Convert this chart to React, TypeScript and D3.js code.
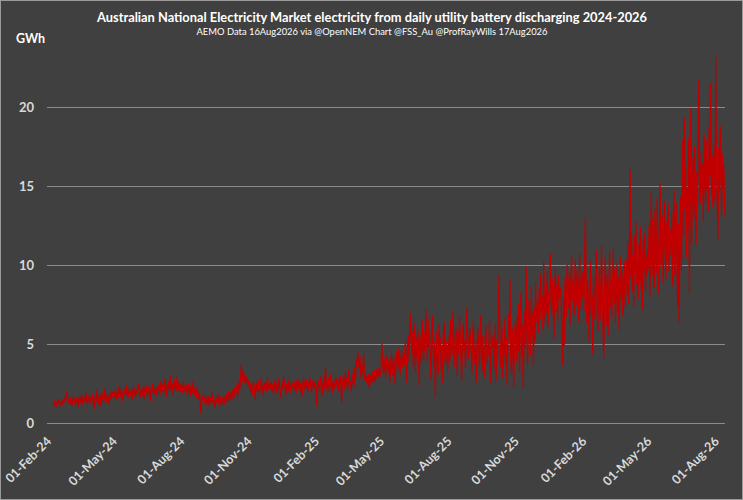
// @ts-nocheck
import React, { useEffect, useRef } from "react";
import * as d3 from "d3";

// daily utility battery discharging, GWh, from 08-Feb-2024
const gwh2024 = [
  // Feb
  1.3, 1.2, 1.4, 1.1, 1.0, 1.3, 1.2, 1.4, 1.5, 1.2, 1.1, 1.3, 1.4, 1.2, 1.5, 1.3, 1.6, 1.4, 1.8, 2.0, 1.5, 1.3,
  // Mar
  1.4, 1.2, 1.6, 1.3, 1.1, 1.5, 1.7, 1.4, 1.2, 1.3, 1.6, 1.5, 1.0, 1.4, 1.7, 1.3, 1.5, 1.8, 1.2, 1.4, 1.6, 1.5, 1.3, 1.9, 1.4, 1.2, 1.6, 1.7, 1.5, 1.3, 1.6,
  // Apr
  1.5, 1.8, 1.3, 0.9, 1.6, 1.7, 1.4, 2.1, 1.5, 1.2, 1.6, 1.8, 1.1, 1.4, 1.9, 1.6, 1.3, 1.7, 2.2, 1.5, 1.4, 1.8, 1.6, 1.2, 1.7, 1.9, 1.5, 1.8, 2.0, 1.6,
  // May
  1.9, 1.7, 2.1, 1.5, 1.8, 2.0, 1.6, 2.3, 1.9, 1.7, 2.2, 1.8, 1.4, 2.0, 2.1, 1.9, 1.7, 2.4, 1.8, 2.0, 1.6, 2.2, 1.9, 1.8, 2.1, 1.5, 2.0, 2.3, 1.9, 1.7, 2.1,
  // Jun
  2.0, 1.8, 2.2, 2.5, 1.9, 1.6, 2.1, 2.0, 1.8, 2.3, 1.5, 2.2, 1.9, 2.4, 2.0, 1.7, 2.1, 2.3, 1.9, 1.4, 2.2, 2.0, 2.5, 1.8, 2.1, 1.9, 2.3, 2.0, 1.7, 2.2,
  // Jul
  2.4, 2.1, 1.8, 2.6, 2.2, 2.0, 2.5, 1.9, 2.3, 2.8, 2.1, 1.7, 2.4, 2.2, 2.6, 2.0, 3.0, 2.3, 2.1, 2.5, 1.8, 2.4, 2.7, 2.2, 2.0, 2.9, 2.4, 2.1, 2.6, 2.3, 2.0,
  // Aug
  2.5, 2.2, 1.9, 2.6, 2.1, 2.3, 2.0, 2.4, 1.8, 2.2, 2.5, 2.0, 1.7, 2.3, 2.1, 1.9, 2.6, 2.2, 1.8, 2.0, 2.3, 1.6, 2.1, 1.9, 1.5, 1.8, 1.2, 0.6, 1.4, 1.7, 1.5,
  // Sep
  1.6, 1.3, 1.8, 1.4, 1.2, 1.5, 1.7, 1.1, 1.4, 1.6, 1.3, 1.9, 1.5, 1.2, 1.4, 1.0, 1.6, 1.3, 1.5, 1.8, 1.2, 1.4, 1.7, 1.3, 1.1, 1.5, 1.6, 1.4, 1.2, 1.7,
  // Oct
  1.5, 1.8, 1.3, 1.6, 2.0, 1.4, 1.7, 1.9, 1.5, 2.1, 1.8, 1.6, 2.2, 1.9, 2.4, 2.0, 1.7, 2.3, 2.6, 2.1, 2.8, 3.7, 3.1, 2.7, 3.3, 2.9, 2.5, 3.0, 2.6, 2.8, 2.4,
  // Nov
  2.7, 2.3, 2.0, 2.5, 2.2, 1.8, 2.4, 2.6, 2.1, 1.5, 2.3, 2.5, 2.0, 2.7, 2.2, 1.9, 2.4, 2.8, 2.1, 2.3, 1.7, 2.5, 2.2, 2.6, 2.0, 2.4, 2.9, 2.1, 2.3, 2.5,
  // Dec
  2.2, 2.6, 2.0, 2.4, 1.8, 2.3, 2.7, 2.1, 2.5, 1.9, 2.2, 2.8, 2.4, 2.0, 1.6, 2.3, 2.6, 2.1, 2.9, 2.4, 2.2, 1.8, 2.5, 2.3, 2.0, 2.7, 2.2, 2.4, 1.9, 2.6, 2.3,
];

const gwh2025 = [
  // Jan
  2.4, 2.1, 2.6, 2.3, 1.9, 2.7, 2.5, 2.2, 2.8, 2.0, 2.4, 2.6, 1.7, 2.3, 2.9, 2.5, 2.1, 2.4, 2.7, 2.2, 2.0, 2.6, 2.3, 2.8, 2.4, 1.9, 2.5, 2.7, 2.2, 2.4, 2.6,
  // Feb
  2.3, 1.1, 2.2, 2.7, 2.4, 2.0, 2.6, 3.0, 2.3, 1.8, 2.5, 2.9, 2.2, 3.5, 2.6, 2.1, 2.4, 2.8, 2.0, 2.5, 3.1, 2.3, 1.9, 2.6, 2.7, 2.2, 2.4, 2.9,
  // Mar
  2.6, 2.3, 2.8, 2.0, 2.5, 3.0, 2.7, 1.3, 2.4, 2.9, 2.6, 2.2, 3.2, 2.5, 2.8, 2.1, 2.7, 3.4, 2.4, 2.6, 2.0, 2.9, 3.1, 2.5, 2.3, 3.5, 2.8, 4.0, 3.6, 4.5, 3.9,
  // Apr
  3.5, 4.2, 3.1, 2.8, 3.6, 3.3, 4.4, 3.2, 2.7, 3.0, 2.6, 2.9, 2.4, 3.1, 2.2, 2.8, 3.0, 2.5, 3.2, 2.7, 2.9, 3.3, 2.6, 3.0, 3.4, 2.8, 3.1, 3.5, 2.9, 3.2,
  // May
  3.4, 5.0, 3.8, 3.2, 4.1, 3.5, 2.9, 3.9, 4.3, 3.1, 3.6, 4.0, 2.6, 3.7, 4.4, 3.3, 3.0, 4.2, 3.8, 2.5, 3.6, 4.5, 3.9, 3.4, 4.7, 3.7, 3.1, 4.1, 4.6, 3.5, 4.0,
  // Jun
  4.3, 3.7, 5.2, 4.1, 2.6, 4.8, 5.5, 3.9, 6.1, 6.9, 5.0, 4.4, 5.8, 3.5, 6.3, 4.7, 3.2, 5.4, 4.2, 6.0, 4.9, 2.4, 5.6, 4.5, 3.8, 6.5, 5.1, 4.0, 5.7, 4.6,
  // Jul
  7.2, 5.3, 3.9, 6.6, 4.8, 5.9, 4.2, 2.8, 5.5, 6.8, 4.5, 3.6, 5.1, 1.7, 4.3, 5.8, 4.0, 3.1, 6.2, 4.7, 5.4, 3.4, 4.9, 2.6, 5.7, 6.4, 4.1, 3.7, 5.2, 4.6, 3.3,
  // Aug
  4.8, 5.6, 3.9, 6.5, 5.1, 4.3, 7.0, 5.4, 3.6, 4.7, 6.1, 5.0, 3.0, 5.8, 4.4, 6.8, 5.3, 4.0, 2.7, 5.5, 6.3, 4.6, 5.2, 3.5, 4.9, 7.2, 5.7, 4.1, 4.8, 6.0, 5.3,
  // Sep
  4.5, 3.2, 5.6, 6.4, 4.2, 3.8, 5.1, 2.6, 4.7, 6.0, 5.3, 3.6, 4.4, 6.8, 4.9, 3.3, 5.5, 4.1, 2.9, 5.2, 6.2, 4.6, 3.7, 5.0, 4.3, 6.5, 3.9, 2.5, 5.4, 4.8,
  // Oct
  5.6, 3.4, 4.9, 6.3, 2.7, 5.2, 4.1, 7.0, 9.3, 5.8, 3.6, 4.5, 6.1, 2.9, 5.0, 4.3, 6.6, 3.8, 5.4, 2.4, 4.7, 6.9, 5.5, 9.1, 4.2, 3.1, 6.0, 5.3, 2.3, 4.8, 6.4,
  // Nov
  5.7, 3.9, 6.8, 4.6, 7.5, 3.2, 5.9, 8.3, 4.4, 6.2, 2.3, 5.1, 7.1, 4.8, 9.9, 6.5, 3.7, 5.4, 7.8, 6.0, 4.3, 8.6, 5.6, 6.9, 3.6, 7.3, 5.2, 8.9, 6.4, 7.0,
  // Dec
  7.7, 5.7, 8.5, 6.6, 9.4, 7.2, 8.0, 5.9, 10.2, 7.5, 6.3, 8.8, 7.0, 9.6, 6.1, 8.3, 7.4, 10.7, 8.6, 6.8, 9.1, 7.8, 5.4, 8.4, 9.8, 7.1, 8.7, 6.5, 9.3, 7.9, 8.2,
];

const gwh2026 = [
  // Jan
  8.6, 7.4, 5.8, 3.7, 7.9, 4.9, 9.2, 8.1, 6.7, 10.0, 8.8, 7.3, 9.5, 6.2, 8.4, 10.6, 7.7, 9.0, 8.3, 6.9, 10.3, 8.9, 7.5, 9.7, 8.2, 6.4, 10.7, 8.5, 7.2, 9.4, 8.0,
  // Feb
  9.6, 7.1, 10.4, 13.0, 8.7, 6.3, 9.1, 7.8, 5.2, 8.5, 10.2, 6.9, 8.0, 4.4, 9.3, 7.5, 6.6, 8.9, 10.9, 7.2, 5.8, 8.3, 9.8, 6.5, 7.7, 11.2, 8.4, 6.0,
  // Mar
  4.1, 7.9, 10.4, 8.6, 6.2, 9.4, 5.6, 8.1, 10.8, 7.3, 9.0, 6.7, 8.8, 11.0, 7.6, 9.7, 6.4, 8.3, 10.1, 7.0, 9.2, 5.9, 8.7, 10.5, 7.8, 9.5, 6.8, 8.4, 10.2, 7.4, 9.1,
  // Apr
  10.3, 8.1, 11.5, 7.6, 9.8, 16.0, 9.2, 12.1, 8.4, 10.6, 7.4, 11.8, 9.5, 12.7, 8.8, 10.2, 7.9, 11.3, 9.0, 12.4, 8.5, 10.9, 7.2, 11.6, 9.7, 12.0, 8.3, 10.5, 9.4, 11.1,
  // May
  9.8, 12.5, 8.0, 11.2, 14.6, 9.3, 12.9, 10.1, 8.6, 13.5, 11.0, 9.5, 14.2, 10.7, 8.2, 12.3, 15.1, 9.9, 11.6, 13.1, 8.9, 10.4, 14.0, 11.9, 9.1, 12.7, 10.3, 13.8, 9.6, 11.4, 12.2,
  // Jun
  10.6, 13.4, 8.7, 12.0, 14.7, 9.4, 11.3, 13.9, 10.0, 7.4, 12.6, 6.4, 11.1, 14.3, 9.7, 13.0, 17.9, 11.8, 19.3, 13.6, 16.2, 10.5, 14.8, 12.4, 18.0, 8.2, 15.5, 19.9, 11.4, 14.1,
  // Jul
  16.8, 12.9, 17.5, 14.2, 11.3, 15.9, 13.6, 18.7, 21.7, 15.0, 13.9, 17.2, 14.6, 16.4, 12.8, 18.3, 15.3, 13.9, 17.9, 14.8, 16.6, 13.4, 18.7, 15.7, 21.5, 14.5, 16.9, 13.7, 17.6, 15.1, 14.0,
  // Aug
  23.3, 16.2, 13.9, 11.7, 17.4, 14.6, 18.8, 15.8, 13.2, 17.0, 14.9, 16.3, 13.8, 13.0,
];

const yTicks = [0, 5, 10, 15, 20];
const xTickDates = [
  "2024-02-01", "2024-05-01", "2024-08-01", "2024-11-01",
  "2025-02-01", "2025-05-01", "2025-08-01", "2025-11-01",
  "2026-02-01", "2026-05-01", "2026-08-01",
];

const title = "Australian National Electricity Market electricity from daily utility battery discharging 2024-2026";
const subtitle = "AEMO Data 16Aug2026  via @OpenNEM Chart @FSS_Au @ProfRayWills 17Aug2026";

function App() {
  const ref = useRef(null);

  useEffect(() => {
    document.body.style.margin = "0";
    const W = 743, H = 500;
    const font = "Lato, 'Open Sans', sans-serif";
    const parse = d3.timeParse("%Y-%m-%d");
    const start = parse("2024-02-08");

    const values = gwh2024.concat(gwh2025, gwh2026);
    const data = values.map((v, i) => ({ date: d3.timeDay.offset(start, i), v }));

    const svg = d3.select(ref.current);
    svg.selectAll("*").remove();

    svg.append("rect")
      .attr("x", 0.5).attr("y", 0.5)
      .attr("width", W - 1).attr("height", H - 1)
      .attr("fill", "#404040")
      .attr("stroke", "#9a9a9a");

    var x = d3.scaleTime()
      .domain([parse("2024-02-01"), parse("2026-08-15")])
      .range([48, 726]);
    var y = d3.scaleLinear().domain([0, 20]).range([423, 107]);

    // gridlines
    svg.append("g")
      .selectAll("line")
      .data(yTicks)
      .enter()
      .append("line")
      .attr("x1", 47).attr("x2", 725)
      .attr("y1", (d) => Math.round(y(d)) + 0.5)
      .attr("y2", (d) => Math.round(y(d)) + 0.5)
      .attr("stroke", "#8c8c8c")
      .attr("stroke-width", 1.2);

    // y labels
    svg.append("g")
      .selectAll("text")
      .data(yTicks)
      .enter()
      .append("text")
      .attr("x", 34)
      .attr("y", (d) => y(d) + 4.5)
      .attr("text-anchor", "end")
      .attr("fill", "#d9d9d9")
      .style("font-family", font)
      .style("font-weight", 700)
      .style("font-size", "13px")
      .text((d) => d);

    // x labels, rotated
    svg.append("g")
      .selectAll("text")
      .data(xTickDates.map(parse))
      .enter()
      .append("text")
      .attr("transform", (d) => "translate(" + (x(d) + 1) + ",439) rotate(-45)")
      .attr("text-anchor", "end")
      .attr("dy", "0.35em")
      .attr("fill", "#d9d9d9")
      .style("font-family", font)
      .style("font-weight", 700)
      .style("font-size", "12.5px")
      .text((d) => d3.timeFormat("%d-%b-%y")(d));

    // the series
    var line = d3.line()
      .x((d) => x(d.date))
      .y((d) => y(d.v));

    svg.append("path")
      .datum(data)
      .attr("d", line)
      .attr("fill", "none")
      .attr("stroke", "#c00000")
      .attr("stroke-width", 1.3)
      .attr("stroke-linejoin", "round");

    // titles
    svg.append("text")
      .attr("x", 372).attr("y", 22)
      .attr("text-anchor", "middle")
      .attr("fill", "#ffffff")
      .attr("textLength", 550)
      .attr("lengthAdjust", "spacingAndGlyphs")
      .style("font-family", font)
      .style("font-weight", 700)
      .style("font-size", "13.5px")
      .text(title);

    svg.append("text")
      .attr("x", 372).attr("y", 35)
      .attr("text-anchor", "middle")
      .attr("fill", "#ffffff")
      .attr("textLength", 351)
      .attr("lengthAdjust", "spacingAndGlyphs")
      .style("font-family", font)
      .style("font-size", "10px")
      .text(subtitle);

    svg.append("text")
      .attr("x", 16).attr("y", 43)
      .attr("fill", "#ffffff")
      .style("font-family", font)
      .style("font-weight", 700)
      .style("font-size", "12.5px")
      .text("GWh");
  }, []);

  return <svg ref={ref} width={743} height={500} style={{ display: "block" }} />;
}

export default App;
